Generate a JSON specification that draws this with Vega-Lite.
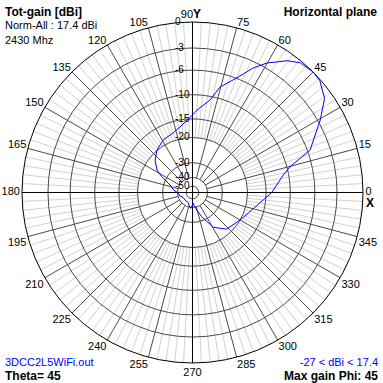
{
 "$schema": "https://vega.github.io/schema/vega-lite/v6.json",
 "width": 383, "height": 383, "padding": 0, "autosize": {"type": "none"},
 "background": "white",
 "config": {"view": {"stroke": null}, "font": "Liberation Sans"},
 "datasets": {
  "pattern": [
   {"a":0,"d":-13.7},{"a":10.9,"d":-11.0},{"a":14.7,"d":-9.5},{"a":19.9,"d":-5.6},{"a":29.6,"d":-2.7},{"a":35.5,"d":-0.9},{"a":41.4,"d":-0.1},{"a":45,"d":0},{"a":50.3,"d":-0.2},{"a":54.3,"d":-0.9},{"a":60.1,"d":-2.4},{"a":64.1,"d":-3.8},{"a":68.8,"d":-5.9},{"a":75.4,"d":-8.1},{"a":79.3,"d":-10.7},{"a":86.9,"d":-13.0},{"a":90,"d":-14.1},{"a":100.8,"d":-16.7},{"a":108.1,"d":-17.8},{"a":119.3,"d":-18.5},{"a":129.9,"d":-19.9},{"a":139.1,"d":-21.8},{"a":147.6,"d":-24.5},{"a":152.5,"d":-27.5},{"a":161.6,"d":-33.5},{"a":172.6,"d":-36.8},{"a":183,"d":-40.7},{"a":195.6,"d":-41.9},{"a":207.6,"d":-44.4},{"a":226,"d":-44.4},{"a":247.6,"d":-44.0},{"a":256.7,"d":-41.0},{"a":263.5,"d":-39.2},{"a":274.2,"d":-44.2},{"a":277.6,"d":-41.3},{"a":283.5,"d":-37.5},{"a":290.8,"d":-32.2},{"a":300.9,"d":-25.1},{"a":312.9,"d":-21.6},{"a":330,"d":-20.0},{"a":341.5,"d":-18.4},{"a":354,"d":-15.6},{"a":360,"d":-13.7}
  ],
  "rings": [{"d":0,"t":"0"},{"d":-3,"t":"-3"},{"d":-6,"t":"-6"},{"d":-10,"t":"-10"},{"d":-15,"t":"-15"},{"d":-20,"t":"-20"},{"d":-30,"t":"-30"},{"d":-40,"t":"-40"},{"d":-50,"t":"-50"}],
  "spokes": [{"a":0},{"a":3},{"a":6},{"a":9},{"a":12},{"a":15},{"a":18},{"a":21},{"a":24},{"a":27},{"a":30},{"a":33},{"a":36},{"a":39},{"a":42},{"a":45},{"a":48},{"a":51},{"a":54},{"a":57},{"a":60},{"a":63},{"a":66},{"a":69},{"a":72},{"a":75},{"a":78},{"a":81},{"a":84},{"a":87},{"a":90},{"a":93},{"a":96},{"a":99},{"a":102},{"a":105},{"a":108},{"a":111},{"a":114},{"a":117},{"a":120},{"a":123},{"a":126},{"a":129},{"a":132},{"a":135},{"a":138},{"a":141},{"a":144},{"a":147},{"a":150},{"a":153},{"a":156},{"a":159},{"a":162},{"a":165},{"a":168},{"a":171},{"a":174},{"a":177},{"a":180},{"a":183},{"a":186},{"a":189},{"a":192},{"a":195},{"a":198},{"a":201},{"a":204},{"a":207},{"a":210},{"a":213},{"a":216},{"a":219},{"a":222},{"a":225},{"a":228},{"a":231},{"a":234},{"a":237},{"a":240},{"a":243},{"a":246},{"a":249},{"a":252},{"a":255},{"a":258},{"a":261},{"a":264},{"a":267},{"a":270},{"a":273},{"a":276},{"a":279},{"a":282},{"a":285},{"a":288},{"a":291},{"a":294},{"a":297},{"a":300},{"a":303},{"a":306},{"a":309},{"a":312},{"a":315},{"a":318},{"a":321},{"a":324},{"a":327},{"a":330},{"a":333},{"a":336},{"a":339},{"a":342},{"a":345},{"a":348},{"a":351},{"a":354},{"a":357}],
  "labels": [{"a":0,"t":"0"},{"a":15,"t":"15"},{"a":30,"t":"30"},{"a":45,"t":"45"},{"a":60,"t":"60"},{"a":75,"t":"75"},{"a":105,"t":"105"},{"a":120,"t":"120"},{"a":135,"t":"135"},{"a":150,"t":"150"},{"a":165,"t":"165"},{"a":180,"t":"180"},{"a":195,"t":"195"},{"a":210,"t":"210"},{"a":225,"t":"225"},{"a":240,"t":"240"},{"a":255,"t":"255"},{"a":270,"t":"270"},{"a":285,"t":"285"},{"a":300,"t":"300"},{"a":315,"t":"315"},{"a":330,"t":"330"},{"a":345,"t":"345"}],
  "one": [{}]
 },
 "encoding": {
  "x": {"field": "x", "type": "quantitative", "scale": {"domain": [-1.12903, 1.11730], "nice": false, "zero": false}, "axis": null},
  "y": {"field": "y", "type": "quantitative", "scale": {"domain": [-1.11730, 1.12903], "nice": false, "zero": false}, "axis": null}
 },
 "layer": [
  {"data": {"name": "spokes"},
   "transform": [{"filter": "datum.a % 15 != 0"},
    {"calculate": "(exp(0.053*-20)-0.035)/0.965", "as": "r1"},
    {"calculate": "datum.r1*cos(datum.a*PI/180)", "as": "x"},
    {"calculate": "datum.r1*sin(datum.a*PI/180)", "as": "y"},
    {"calculate": "cos(datum.a*PI/180)", "as": "x2"},
    {"calculate": "sin(datum.a*PI/180)", "as": "y2"}],
   "mark": {"type": "rule", "color": "#d2d2d2", "strokeWidth": 1},
   "encoding": {"x2": {"field": "x2"}, "y2": {"field": "y2"}}},
  {"data": {"name": "spokes"},
   "transform": [{"filter": "datum.a % 15 == 0 && datum.a % 90 != 0"},
    {"calculate": "(exp(0.053*-40)-0.035)/0.965", "as": "r1"},
    {"calculate": "datum.r1*cos(datum.a*PI/180)", "as": "x"},
    {"calculate": "datum.r1*sin(datum.a*PI/180)", "as": "y"},
    {"calculate": "cos(datum.a*PI/180)", "as": "x2"},
    {"calculate": "sin(datum.a*PI/180)", "as": "y2"}],
   "mark": {"type": "rule", "color": "#4a4a4a", "strokeWidth": 1},
   "encoding": {"x2": {"field": "x2"}, "y2": {"field": "y2"}}},
  {"data": {"name": "rings"},
   "transform": [{"filter": "datum.d < 0"},
    {"calculate": "(exp(0.053*datum.d)-0.035)/0.965", "as": "f"},
    {"calculate": "4*pow(datum.f*170.5,2)", "as": "s"},
    {"calculate": "0", "as": "x"}, {"calculate": "0", "as": "y"}],
   "mark": {"type": "point", "shape": "circle", "filled": false, "stroke": "#4a4a4a", "strokeWidth": 1, "opacity": 1},
   "encoding": {"size": {"field": "s", "type": "quantitative", "scale": null}}},
  {"data": {"name": "spokes"},
   "transform": [{"filter": "datum.a % 90 == 0"},
    {"calculate": "0", "as": "x"}, {"calculate": "0", "as": "y"},
    {"calculate": "cos(datum.a*PI/180)", "as": "x2"},
    {"calculate": "sin(datum.a*PI/180)", "as": "y2"}],
   "mark": {"type": "rule", "color": "#000000", "strokeWidth": 1},
   "encoding": {"x2": {"field": "x2"}, "y2": {"field": "y2"}}},
  {"data": {"name": "rings"},
   "transform": [{"filter": "datum.d == 0"},
    {"calculate": "4*pow(170.5,2)", "as": "s"},
    {"calculate": "0", "as": "x"}, {"calculate": "0", "as": "y"}],
   "mark": {"type": "point", "shape": "circle", "filled": false, "stroke": "#000000", "strokeWidth": 1, "opacity": 1},
   "encoding": {"size": {"field": "s", "type": "quantitative", "scale": null}}},
  {"data": {"name": "rings"},
   "transform": [{"calculate": "(exp(0.053*datum.d)-0.035)/0.965", "as": "y"}, {"calculate": "-0.1026", "as": "x"}],
   "mark": {"type": "text", "align": "left", "baseline": "middle", "fontSize": 10, "color": "#000000"},
   "encoding": {"text": {"field": "t", "type": "nominal"}}},
  {"data": {"name": "labels"},
   "transform": [{"filter": "datum.a > 0 && datum.a < 90"},
    {"calculate": "1.009*cos(datum.a*PI/180)", "as": "x"},
    {"calculate": "1.009*sin(datum.a*PI/180)", "as": "y"}],
   "mark": {"type": "text", "align": "left", "baseline": "alphabetic", "fontSize": 11, "color": "#000000"},
   "encoding": {"text": {"field": "t", "type": "nominal"}}},
  {"data": {"name": "labels"},
   "transform": [{"filter": "datum.a > 90 && datum.a < 180"},
    {"calculate": "1.009*cos(datum.a*PI/180)", "as": "x"},
    {"calculate": "1.009*sin(datum.a*PI/180)", "as": "y"}],
   "mark": {"type": "text", "align": "right", "baseline": "alphabetic", "fontSize": 11, "color": "#000000"},
   "encoding": {"text": {"field": "t", "type": "nominal"}}},
  {"data": {"name": "labels"},
   "transform": [{"filter": "datum.a > 180 && datum.a < 270"},
    {"calculate": "1.009*cos(datum.a*PI/180)", "as": "x"},
    {"calculate": "1.009*sin(datum.a*PI/180)", "as": "y"}],
   "mark": {"type": "text", "align": "right", "baseline": "top", "fontSize": 11, "color": "#000000"},
   "encoding": {"text": {"field": "t", "type": "nominal"}}},
  {"data": {"name": "labels"},
   "transform": [{"filter": "datum.a > 270 && datum.a < 360"},
    {"calculate": "1.009*cos(datum.a*PI/180)", "as": "x"},
    {"calculate": "1.009*sin(datum.a*PI/180)", "as": "y"}],
   "mark": {"type": "text", "align": "left", "baseline": "top", "fontSize": 11, "color": "#000000"},
   "encoding": {"text": {"field": "t", "type": "nominal"}}},
  {"data": {"name": "labels"},
   "transform": [{"filter": "datum.a == 0"}, {"calculate": "1.015", "as": "x"}, {"calculate": "0", "as": "y"}],
   "mark": {"type": "text", "align": "left", "baseline": "middle", "fontSize": 11, "color": "#000000"},
   "encoding": {"text": {"field": "t", "type": "nominal"}}},
  {"data": {"name": "labels"},
   "transform": [{"filter": "datum.a == 180"}, {"calculate": "-1.012", "as": "x"}, {"calculate": "0", "as": "y"}],
   "mark": {"type": "text", "align": "right", "baseline": "middle", "fontSize": 11, "color": "#000000"},
   "encoding": {"text": {"field": "t", "type": "nominal"}}},
  {"data": {"name": "labels"},
   "transform": [{"filter": "datum.a == 270"}, {"calculate": "0", "as": "x"}, {"calculate": "-1.025", "as": "y"}],
   "mark": {"type": "text", "align": "center", "baseline": "top", "fontSize": 11, "color": "#000000"},
   "encoding": {"text": {"field": "t", "type": "nominal"}}},
  {"data": {"name": "one"},
   "transform": [{"calculate": "0.003", "as": "x"}, {"calculate": "1.022", "as": "y"}],
   "mark": {"type": "text", "align": "right", "baseline": "alphabetic", "fontSize": 11, "color": "#000000", "text": "90"}},
  {"data": {"name": "one"},
   "transform": [{"calculate": "0.003", "as": "x"}, {"calculate": "1.022", "as": "y"}],
   "mark": {"type": "text", "align": "left", "baseline": "alphabetic", "fontSize": 12, "fontWeight": "bold", "color": "#000000", "text": "Y"}},
  {"data": {"name": "one"},
   "transform": [{"calculate": "1.0176", "as": "x"}, {"calculate": "-0.0323", "as": "y"}],
   "mark": {"type": "text", "align": "left", "baseline": "top", "fontSize": 12, "fontWeight": "bold", "color": "#000000", "text": "X"}},
  {"data": {"name": "pattern"},
   "transform": [{"calculate": "(exp(0.053*datum.d)-0.035)/0.965", "as": "f"},
    {"calculate": "datum.f*cos(datum.a*PI/180)", "as": "x"},
    {"calculate": "datum.f*sin(datum.a*PI/180)", "as": "y"}],
   "mark": {"type": "line", "color": "#0000ff", "strokeWidth": 1},
   "encoding": {"order": {"field": "a", "type": "quantitative"}}},
  {"data": {"name": "one"},
   "transform": [{"calculate": "-1.0997", "as": "x"}, {"calculate": "1.0587", "as": "y"}],
   "mark": {"type": "text", "align": "left", "baseline": "middle", "fontSize": 12, "fontWeight": "bold", "color": "#000000", "text": "Tot-gain [dBi]"}},
  {"data": {"name": "one"},
   "transform": [{"calculate": "-1.0997", "as": "x"}, {"calculate": "0.9765", "as": "y"}],
   "mark": {"type": "text", "align": "left", "baseline": "middle", "fontSize": 11, "color": "#000000", "text": "Norm-All : 17.4 dBi"}},
  {"data": {"name": "one"},
   "transform": [{"calculate": "-1.0997", "as": "x"}, {"calculate": "0.8886", "as": "y"}],
   "mark": {"type": "text", "align": "left", "baseline": "middle", "fontSize": 11, "color": "#000000", "text": "2430 Mhz"}},
  {"data": {"name": "one"},
   "transform": [{"calculate": "1.0821", "as": "x"}, {"calculate": "1.0587", "as": "y"}],
   "mark": {"type": "text", "align": "right", "baseline": "middle", "fontSize": 12, "fontWeight": "bold", "color": "#000000", "text": "Horizontal plane"}},
  {"data": {"name": "one"},
   "transform": [{"calculate": "-1.0997", "as": "x"}, {"calculate": "-0.9971", "as": "y"}],
   "mark": {"type": "text", "align": "left", "baseline": "middle", "fontSize": 11, "color": "#0000ff", "text": "3DCC2L5WiFi.out"}},
  {"data": {"name": "one"},
   "transform": [{"calculate": "-1.0997", "as": "x"}, {"calculate": "-1.0762", "as": "y"}],
   "mark": {"type": "text", "align": "left", "baseline": "middle", "fontSize": 12, "fontWeight": "bold", "color": "#000000", "text": "Theta= 45"}},
  {"data": {"name": "one"},
   "transform": [{"calculate": "1.088", "as": "x"}, {"calculate": "-0.9971", "as": "y"}],
   "mark": {"type": "text", "align": "right", "baseline": "middle", "fontSize": 11, "color": "#0000ff", "text": "-27 < dBi < 17.4"}},
  {"data": {"name": "one"},
   "transform": [{"calculate": "1.088", "as": "x"}, {"calculate": "-1.0762", "as": "y"}],
   "mark": {"type": "text", "align": "right", "baseline": "middle", "fontSize": 12, "fontWeight": "bold", "color": "#000000", "text": "Max gain Phi: 45"}}
 ]
}
